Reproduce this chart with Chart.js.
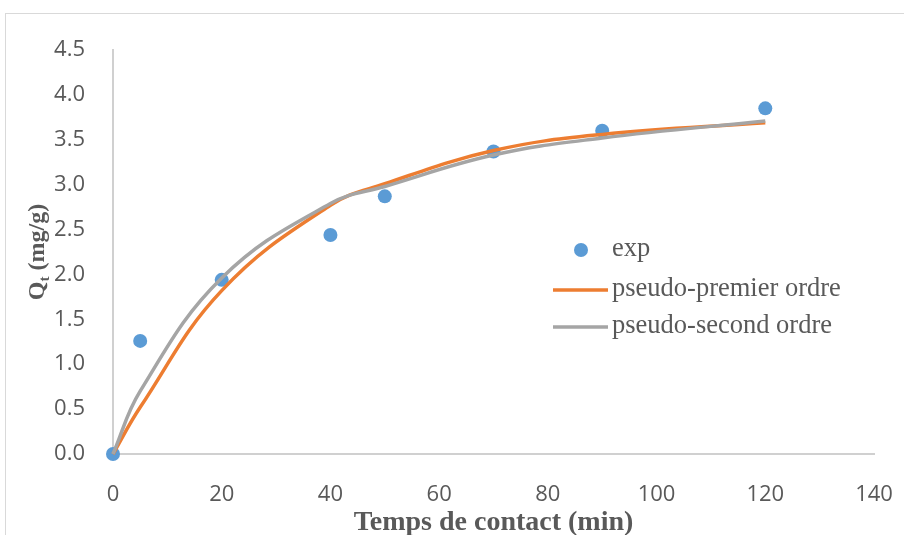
<!DOCTYPE html>
<html>
<head>
<meta charset="utf-8">
<script src="https://cdn.jsdelivr.net/npm/chart.js@4.4.0/dist/chart.umd.min.js"></script>
<style>
  body { margin: 0; background: #fff; overflow: hidden; }
  #wrap { position: relative; width: 904px; height: 535px; }
  #frame { position: absolute; left: 5px; top: 13px; width: 920px; height: 540px; border: 1px solid #d9d9d9; }
  canvas { position: absolute; left: 0; top: 0; }
</style>
</head>
<body>
<div id="wrap">
  <div id="frame"></div>
  <canvas id="kinetics" width="904" height="535"></canvas>
</div>
<script>
// temps de contact (min) et quantités adsorbées (mg/g)
const tempsExp = [0, 5, 20, 40, 50, 70, 90, 120];
const qExp = [0, 1.26, 1.94, 2.44, 2.87, 3.37, 3.60, 3.85];
const qPseudoPremier = [0, 0.52, 1.82, 2.77, 3.01, 3.38, 3.56, 3.69];
const qPseudoSecond = [0, 0.70, 1.96, 2.79, 2.98, 3.33, 3.52, 3.71];
const xTicks = [0, 20, 40, 60, 80, 100, 120, 140];
const yTicks = [0, 0.5, 1, 1.5, 2, 2.5, 3, 3.5, 4, 4.5];

const textColor = '#595959';

function toPoints(xs, ys) {
  return xs.map((x, i) => ({ x: x, y: ys[i] }));
}

// titre Y avec indice "t" + légende dessinée dans la zone du graphique
const extras = {
  id: 'extras',
  afterDraw(chart) {
    const ctx = chart.ctx;
    const area = chart.chartArea;
    ctx.save();
    // titre de l'axe Y
    ctx.translate(38, (area.top + area.bottom) / 2);
    ctx.rotate(-Math.PI / 2);
    ctx.fillStyle = textColor;
    ctx.textBaseline = 'middle';
    const q = 'Q', rest = ' (mg/g)';
    ctx.font = 'bold 24px "Liberation Serif"';
    const wQ = ctx.measureText(q).width;
    ctx.font = 'bold 15px "Liberation Serif"';
    const wT = ctx.measureText('t').width;
    ctx.font = 'bold 24px "Liberation Serif"';
    const wR = ctx.measureText(rest).width;
    let x0 = -(wQ + wT + wR) / 2;
    ctx.textAlign = 'left';
    ctx.fillText(q, x0, 0);
    ctx.font = 'bold 15px "Liberation Serif"';
    ctx.fillText('t', x0 + wQ, 7);
    ctx.font = 'bold 24px "Liberation Serif"';
    ctx.fillText(rest, x0 + wQ + wT, 0);
    ctx.restore();

    // légende
    ctx.save();
    const ds = chart.data.datasets;
    const rows = [250, 290, 327];
    ctx.font = '26.5px "Liberation Serif"';
    ctx.textBaseline = 'middle';
    ctx.textAlign = 'left';
    ds.forEach((d, i) => {
      const y = rows[i];
      if (d.showLine === false) {
        ctx.beginPath();
        ctx.arc(581, y, 7, 0, Math.PI * 2);
        ctx.fillStyle = d.backgroundColor;
        ctx.fill();
      } else {
        ctx.beginPath();
        ctx.moveTo(553, y);
        ctx.lineTo(608, y);
        ctx.strokeStyle = d.borderColor;
        ctx.lineWidth = 3.5;
        ctx.stroke();
      }
      ctx.fillStyle = textColor;
      ctx.fillText(d.label, 612, y - 1);
    });
    ctx.restore();
  }
};

const ctx = document.getElementById('kinetics').getContext('2d');
new Chart(ctx, {
  type: 'scatter',
  data: {
    datasets: [
      {
        label: 'exp',
        data: toPoints(tempsExp, qExp),
        showLine: false,
        backgroundColor: '#5B9BD5',
        borderColor: '#5B9BD5',
        pointRadius: 7,
        pointBorderWidth: 0,
        clip: false,
        order: 3
      },
      {
        label: 'pseudo-premier ordre',
        data: toPoints(tempsExp, qPseudoPremier),
        showLine: true,
        borderColor: '#ED7D31',
        backgroundColor: '#ED7D31',
        borderWidth: 3.5,
        pointRadius: 0,
        tension: 0.4,
        clip: false,
        order: 2
      },
      {
        label: 'pseudo-second ordre',
        data: toPoints(tempsExp, qPseudoSecond),
        showLine: true,
        borderColor: '#A5A5A5',
        backgroundColor: '#A5A5A5',
        borderWidth: 3.5,
        pointRadius: 0,
        tension: 0.4,
        clip: false,
        order: 1
      }
    ]
  },
  options: {
    responsive: false,
    animation: false,
    events: [],
    layout: { padding: { top: 50, right: 30, left: 0, bottom: 0 } },
    plugins: {
      legend: { display: false },
      tooltip: { enabled: false }
    },
    scales: {
      x: {
        type: 'linear',
        min: 0,
        max: 140,
        afterBuildTicks: (scale) => { scale.ticks = xTicks.map(v => ({ value: v })); },
        afterFit: (scale) => {
          scale.height = 81;
          scale.paddingLeft = 0;
          scale.paddingRight = 0;
        },
        grid: { display: false },
        border: { display: true, color: '#d0d0d0', width: 2 },
        ticks: {
          color: textColor,
          padding: 20,
          maxRotation: 0,
          font: { family: '"Liberation Sans Narrow", "Open Sans"', size: 22 }
        },
        title: {
          display: true,
          text: 'Temps de contact (min)',
          color: textColor,
          padding: { top: 0, bottom: 0 },
          font: { family: '"Liberation Serif"', size: 28, weight: 'bold', lineHeight: 0.9 }
        }
      },
      y: {
        min: 0,
        max: 4.5,
        afterBuildTicks: (scale) => { scale.ticks = yTicks.map(v => ({ value: v })); },
        afterFit: (scale) => { scale.width = 113; },
        grid: { display: false },
        border: { display: true, color: '#d0d0d0', width: 2 },
        ticks: {
          color: textColor,
          padding: 20,
          callback: (v) => Number(v).toFixed(1),
          font: { family: '"Liberation Sans Narrow", "Open Sans"', size: 22 }
        }
      }
    }
  },
  plugins: [extras]
});
</script>
</body>
</html>
